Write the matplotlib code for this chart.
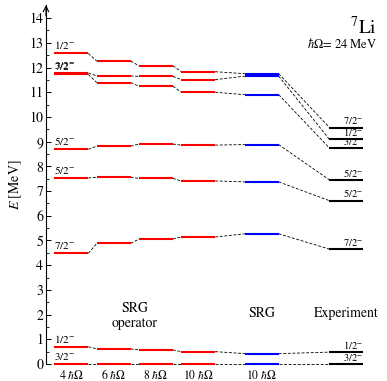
import matplotlib
matplotlib.use("Agg")
import matplotlib.pyplot as plt

plt.rcParams['font.family'] = ['STIXGeneral', 'DejaVu Serif']
plt.rcParams['mathtext.fontset'] = 'stix'

# columns: SRG-operator model spaces, SRG, experiment
op_labels = [r"4 $\hbar\Omega$", r"6 $\hbar\Omega$", r"8 $\hbar\Omega$", r"10 $\hbar\Omega$"]
srg_label = r"10 $\hbar\Omega$"

# energies (MeV), states in the same order in every column
e_4hw = [0.00, 0.70, 4.48, 7.53, 8.69, 11.72, 11.78, 12.57]
e_6hw = [0.00, 0.61, 4.88, 7.56, 8.82, 11.39, 11.66, 12.26]
e_8hw = [0.00, 0.57, 5.06, 7.51, 8.90, 11.24, 11.64, 12.07]
e_10hw = [0.00, 0.50, 5.14, 7.41, 8.86, 11.00, 11.51, 11.83]
e_srg = [0.00, 0.42, 5.27, 7.37, 8.88, 10.90, 11.65, 11.75]
e_exp = [0.00, 0.48, 4.65, 6.61, 7.45, 8.74, 9.09, 9.57]

spin_theory = ["3/2", "1/2", "7/2", "5/2", "5/2", "7/2", "3/2", "1/2"]
spin_exp = ["3/2", "1/2", "7/2", "5/2", "5/2", "3/2", "1/2", "7/2"]

columns = [e_4hw, e_6hw, e_8hw, e_10hw, e_srg, e_exp]
colors = ['red', 'red', 'red', 'red', 'blue', 'black']
xpos = [0, 1, 2, 3, 4.5, 6.5]
half = 0.4

fig = plt.figure(figsize=(3.87, 3.81), dpi=100)
ax = fig.add_axes([46 / 387, 17 / 381, 341 / 387, 359 / 381])

for x, energies, c in zip(xpos, columns, colors):
    for e in energies:
        ax.plot([x - half, x + half], [e, e], color=c, lw=1.5,
                solid_capstyle='butt', clip_on=False, zorder=3)

# dashed connectors between neighbouring columns
for k in range(len(columns) - 1):
    for e1, e2 in zip(columns[k], columns[k + 1]):
        ax.plot([xpos[k] + half, xpos[k + 1] - half], [e1, e2], color='black',
                lw=0.6, ls=(0, (3.5, 2)), clip_on=False, zorder=2)

# spin labels
for e, s in zip(e_4hw, spin_theory):
    ax.text(xpos[0] - half, e + 0.08, rf"${s}^{{-}}$", fontsize=8,
            ha='left', va='bottom')
for e, s in zip(e_exp, spin_exp):
    ax.text(xpos[5] + half, e + 0.05, rf"${s}^{{-}}$", fontsize=7.5,
            ha='right', va='bottom')

# column labels
for x, lab in zip(xpos[:4], op_labels):
    ax.text(x, -0.45, lab, fontsize=8.5, ha='center', va='center')
ax.text(xpos[4], -0.45, srg_label, fontsize=8.5, ha='center', va='center')

ax.text(1.5, 1.95, "SRG\noperator", fontsize=10, ha='center', va='center',
        linespacing=1.15)
ax.text(xpos[4], 2.05, "SRG", fontsize=10, ha='center', va='center')
ax.text(xpos[5], 2.05, "Experiment", fontsize=10, ha='center', va='center')

ax.text(7.22, 13.36, r"$^{7}\mathrm{Li}$", fontsize=14, ha='right', va='baseline')
ax.text(7.22, 12.8, r"$\hbar\Omega$= 24 MeV", fontsize=9, ha='right', va='baseline')

ax.set_xlim(-0.6, 7.46)
ax.set_ylim(0, 14.53)
for side in ['top', 'right', 'bottom']:
    ax.spines[side].set_visible(False)
ax.spines['left'].set_linewidth(0.8)
ax.set_xticks([])
ax.set_yticks(range(0, 15))
ax.set_yticks([i + 0.5 for i in range(14)], minor=True)
ax.tick_params(axis='y', which='major', direction='in', length=3.5, width=0.7,
               labelsize=10, pad=2)
ax.tick_params(axis='y', which='minor', direction='in', length=2, width=0.6)
ax.set_ylabel(r"$E$ [MeV]", fontsize=10, labelpad=4)

ax.annotate('', xy=(0, 1.0), xytext=(0, 0.97), xycoords='axes fraction',
            arrowprops=dict(arrowstyle='->', lw=0.8, color='black',
                            shrinkA=0, shrinkB=0))

fig.savefig("out.png", dpi=100)
